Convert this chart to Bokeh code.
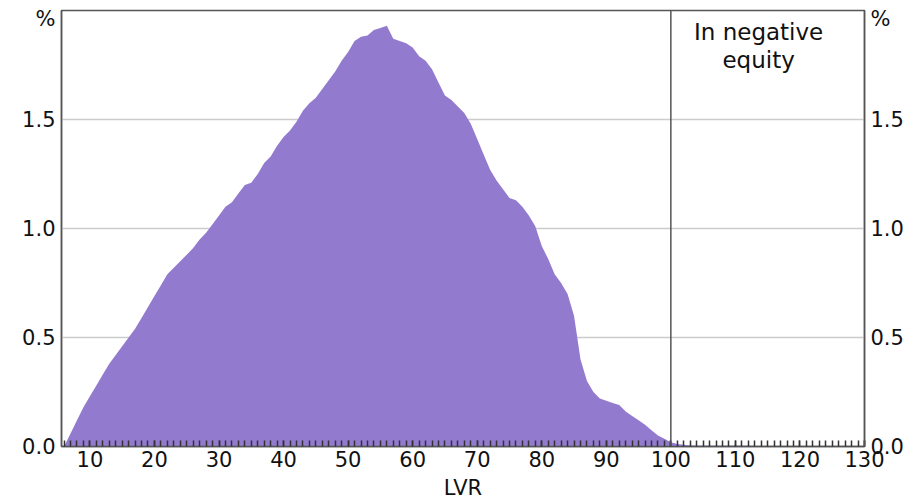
from bokeh.plotting import figure
from bokeh.models import LinearAxis, FixedTicker, Span, Label, Range1d, NumeralTickFormatter
from bokeh.embed import file_html
from bokeh.resources import INLINE

# LVR (per cent) and share of borrowers (%)
lvr = list(range(6, 131))
share = [
    0.00, 0.06, 0.12, 0.18, 0.23, 0.28, 0.33, 0.38, 0.42, 0.46,   # 6-15
    0.50, 0.54, 0.59, 0.64, 0.69, 0.74, 0.79, 0.82, 0.85, 0.88,   # 16-25
    0.91, 0.95, 0.98, 1.02, 1.06, 1.10, 1.12, 1.16, 1.20, 1.21,   # 26-35
    1.25, 1.30, 1.33, 1.38, 1.42, 1.45, 1.49, 1.54, 1.575, 1.60,  # 36-45
    1.64, 1.68, 1.72, 1.77, 1.81, 1.86, 1.88, 1.885, 1.91, 1.92,  # 46-55
    1.93, 1.87, 1.86, 1.85, 1.83, 1.79, 1.77, 1.73, 1.67, 1.61,   # 56-65
    1.59, 1.56, 1.53, 1.48, 1.41, 1.34, 1.27, 1.22, 1.18, 1.14,   # 66-75
    1.13, 1.10, 1.06, 1.01, 0.92, 0.86, 0.79, 0.75, 0.70, 0.60,   # 76-85
    0.40, 0.30, 0.25, 0.22, 0.21, 0.20, 0.19, 0.16, 0.14, 0.12,   # 86-95
    0.10, 0.075, 0.05, 0.035, 0.02, 0.012, 0.008, 0.005, 0.004, 0.004,  # 96-105
    0.004, 0.003, 0.003, 0.003, 0.003, 0.003, 0.003, 0.002, 0.002, 0.002,  # 106-115
    0.002, 0.002, 0.002, 0.002, 0.002, 0.002, 0.002, 0.002, 0.002, 0.002,  # 116-125
    0.002, 0.002, 0.002, 0.002, 0.002,                             # 126-130
]
x_ticks = [10, 20, 30, 40, 50, 60, 70, 80, 90, 100, 110, 120, 130]
y_ticks = [0.0, 0.5, 1.0, 1.5]
annotation = "In negative\nequity"
threshold = 100

FONT = "DejaVu Sans"
FS = "21px"
AXC = "#555555"

p = figure(width=906, height=503, output_backend="svg", toolbar_location=None,
           x_range=Range1d(5.6, 130), y_range=Range1d(0, 2.0),
           min_border_left=61, min_border_right=41, min_border_top=10, min_border_bottom=57)
p.outline_line_color = AXC
p.outline_line_width = 1.5
p.background_fill_color = "white"
p.border_fill_color = "white"

p.varea(x=lvr, y1=[0] * len(lvr), y2=share, fill_color="#927ACF")

p.add_layout(Span(location=threshold, dimension="height", line_color=AXC, line_width=1.5))
p.add_layout(Label(x=113.6, y=1.96, text=annotation, text_align="center", text_baseline="top",
                   text_font=FONT, text_font_size="23px", text_color="#111111", text_line_height=1.05))

# x axis
xa = p.xaxis[0]
xa.ticker = FixedTicker(ticks=x_ticks, minor_ticks=lvr)
xa.axis_line_color = AXC
xa.axis_line_width = 1.5
xa.major_tick_in = 6
xa.major_tick_out = 0
xa.minor_tick_in = 6
xa.minor_tick_out = 0
xa.major_tick_line_color = "#333333"
xa.minor_tick_line_color = "#333333"
xa.major_tick_line_width = 1.5
xa.minor_tick_line_width = 1.5
xa.major_label_standoff = 4
xa.major_label_text_font = FONT
xa.major_label_text_font_size = FS
xa.major_label_text_color = "#111111"
xa.axis_label = "LVR"
xa.axis_label_text_font = FONT
xa.axis_label_text_font_size = FS
xa.axis_label_text_font_style = "normal"
xa.axis_label_text_color = "#111111"
xa.axis_label_standoff = 6

p.xgrid.visible = False
p.ygrid.ticker = FixedTicker(ticks=[0.5, 1.0, 1.5])
p.ygrid.grid_line_color = "#cccccc"
p.ygrid.grid_line_width = 1.3

overrides = {1.96: "%"}
def style_y(ax):
    ax.ticker = FixedTicker(ticks=y_ticks + [1.96])
    ax.formatter = NumeralTickFormatter(format="0.0")
    ax.major_label_overrides = overrides
    ax.axis_line_color = AXC
    ax.axis_line_width = 1.5
    ax.major_tick_line_color = None
    ax.minor_tick_line_color = None
    ax.major_tick_in = 0
    ax.major_tick_out = 0
    ax.major_label_standoff = 6
    ax.major_label_text_font = FONT
    ax.major_label_text_font_size = FS
    ax.major_label_text_color = "#111111"

style_y(p.yaxis[0])
ra = LinearAxis()
style_y(ra)
p.add_layout(ra, "right")

open("out.html", "w").write(file_html(p, INLINE))
